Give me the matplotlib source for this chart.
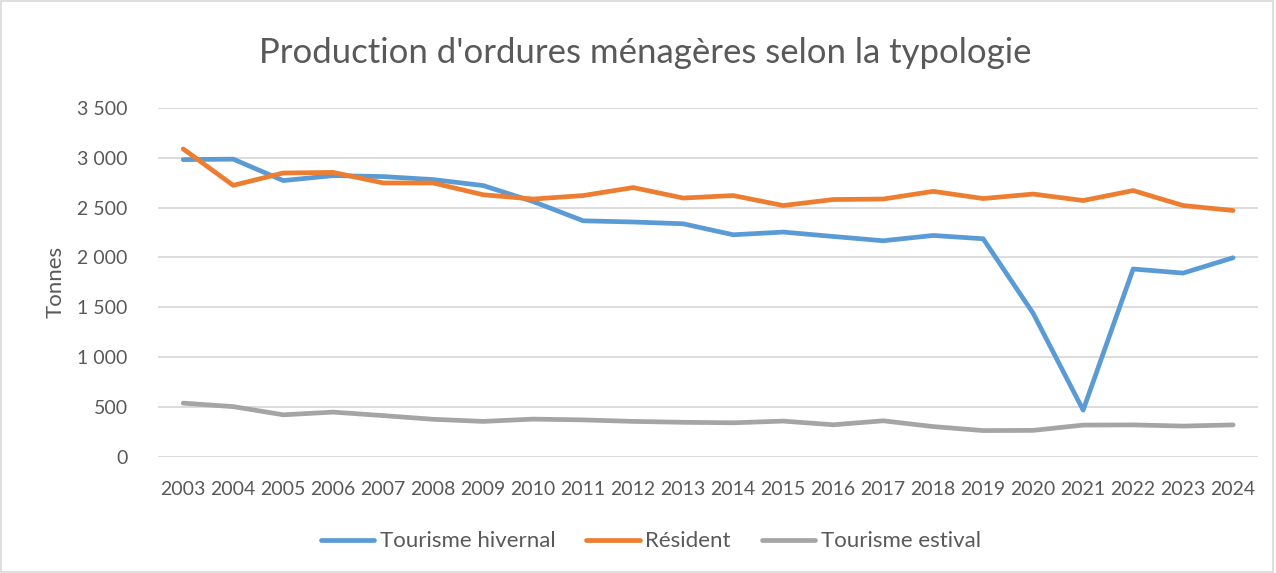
import matplotlib
matplotlib.use("Agg")
import matplotlib.pyplot as plt
from matplotlib.patches import Rectangle
from matplotlib.ticker import FuncFormatter

plt.rcParams['font.family'] = ['Lato', 'DejaVu Sans']

years = list(range(2003, 2025))
hivernal = [2980, 2985, 2770, 2820, 2810, 2780, 2720, 2560, 2367, 2355, 2337, 2227,
            2254, 2210, 2167, 2220, 2187, 1440, 470, 1884, 1843, 1997]
resident = [3087, 2722, 2846, 2852, 2746, 2746, 2628, 2585, 2620, 2700, 2595, 2620,
            2520, 2580, 2585, 2662, 2590, 2635, 2570, 2670, 2520, 2470]
estival = [540, 505, 423, 450, 415, 378, 357, 380, 372, 357, 348, 343,
           360, 323, 363, 305, 265, 267, 320, 322, 310, 322]

labels = ["Tourisme hivernal", "Résident", "Tourisme estival"]
colors = ["#5B9BD5", "#ED7D31", "#A5A5A5"]
txt = "#595959"

fig = plt.figure(figsize=(12.76, 5.73), dpi=100)
ax = fig.add_axes([0.124, 0.2024, 0.862, 0.6096])

for vals, lab, c in zip([hivernal, resident, estival], labels, colors):
    ax.plot(years, vals, color=c, lw=3.4, label=lab, solid_capstyle='round')

ax.set_xlim(2002.5, 2024.5)
ax.set_ylim(0, 3500)
ax.set_yticks(range(0, 3501, 500))
ax.yaxis.set_major_formatter(FuncFormatter(lambda v, p: f"{int(v):,}".replace(",", " ")))
ax.set_xticks(years)
ax.set_xticklabels([str(y) for y in years])
ax.grid(axis='y', color='#D9D9D9', lw=1.3)
ax.set_axisbelow(True)
for s in ax.spines.values():
    s.set_visible(False)
ax.tick_params(axis='both', length=0, colors=txt, labelsize=14)
ax.tick_params(axis='x', pad=17)
ax.tick_params(axis='y', pad=22)

ax.set_ylabel("Tonnes", color=txt, fontsize=16, labelpad=8)
fig.text(0.506, 0.907, "Production d'ordures ménagères selon la typologie",
         ha='center', va='center', fontsize=25, color=txt)

leg = fig.legend(loc='center', bbox_to_anchor=(0.51, 0.055), ncol=3, frameon=False,
                 fontsize=16, handlelength=2.4, handletextpad=0.25, columnspacing=1.4,
                 labelcolor=txt)

fig.patches.append(Rectangle((0.001, 0.002), 0.997, 0.996, transform=fig.transFigure,
                             fill=False, edgecolor='#D9D9D9', lw=1.2))

fig.savefig("out.png", dpi=100)
